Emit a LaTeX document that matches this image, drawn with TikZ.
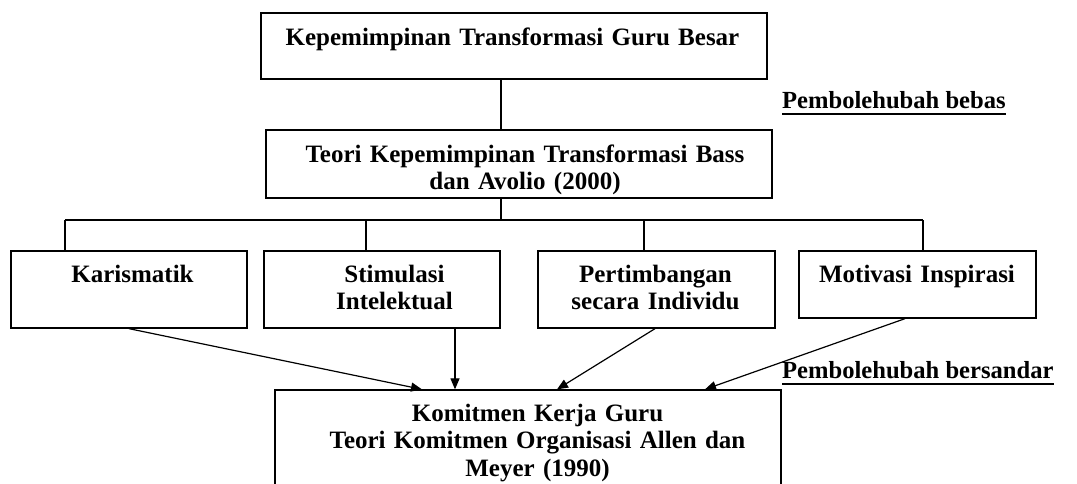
\documentclass[tikz,border=0pt]{standalone}
\usepackage{fontspec}
\setmainfont{Liberation Serif}
\usetikzlibrary{arrows.meta,calc}
\tikzset{
  box/.style={draw=black, line width=1.3pt, fill=white, rectangle, inner sep=0pt},
  txt/.style={font=\bfseries\fontsize{25}{27.5}\selectfont, align=center, text width=500pt, inner sep=0pt, anchor=base},
  lbl/.style={font=\bfseries\fontsize{24.6}{27}\selectfont, inner sep=0pt, anchor=base west},
  conn/.style={draw=black, line width=1.2pt},
  arr/.style={conn, -{Triangle[length=11pt,width=9pt]}},
  uline/.style={draw=black, line width=2pt}
}
\begin{document}
\begin{tikzpicture}[x=1pt,y=-1pt]
\clip (0,0) rectangle (1077,483);
\fill[white] (0,0) rectangle (1077,483);
% boxes
\node[box, minimum width=506pt, minimum height=66pt] (top) at (514,46) {};
\node[box, minimum width=506pt, minimum height=68pt] (mid) at (519,164) {};
\node[box, minimum width=236pt, minimum height=77pt] (k1) at (129,289.5) {};
\node[box, minimum width=236pt, minimum height=77pt] (k2) at (382,289.5) {};
\node[box, minimum width=237pt, minimum height=77pt] (k3) at (656.5,289.5) {};
\node[box, minimum width=237pt, minimum height=67pt] (k4) at (917.5,284.5) {};
\node[box, minimum width=506pt, minimum height=110pt] (kom) at (528,445) {};
% texts
\node[txt] (ttop) at (512.5,45) {Kepemimpinan Transformasi Guru Besar};
\node[txt] (tmid) at (525,162) {Teori Kepemimpinan Transformasi Bass\\dan Avolio (2000)};
\node[txt] (tk1) at (132.5,282) {Karismatik};
\node[txt] (tk2) at (394.5,282) {Stimulasi\\Intelektual};
\node[txt] (tk3) at (655.5,282) {Pertimbangan\\secara Individu};
\node[txt] (tk4) at (917,282) {Motivasi Inspirasi};
\node[txt] (tkom) at (537.5,421) {Komitmen Kerja Guru\\Teori Komitmen Organisasi Allen dan\\Meyer (1990)};
% labels
\node[lbl] (lab1) at (782,108) {Pembolehubah bebas};
\node[lbl] (lab2) at (782,378) {Pembolehubah bersandar};
\draw[uline] ([yshift=-5.5pt]lab1.base west) -- ([yshift=-5.5pt]lab1.base east);
\draw[uline] ([yshift=-5.5pt]lab2.base west) -- ([yshift=-5.5pt]lab2.base east);
% tree connectors
\coordinate (spine) at (501,220);
\coordinate (b1) at (65,220);
\coordinate (b2) at (366,220);
\coordinate (b3) at (644,220);
\coordinate (b4) at (923,220);
\draw[conn] (top.south -| spine) -- (mid.north -| spine);
\draw[conn] (mid.south -| spine) -- (spine);
\draw[conn] (b1) -- (b4);
\draw[conn] (b1) -- (k1.north -| b1);
\draw[conn] (b2) -- (k2.north -| b2);
\draw[conn] (b3) -- (k3.north -| b3);
\draw[conn] (b4) -- (k4.north -| b4);
% arrows
\draw[arr] (k1.south) -- ([xshift=-106pt]kom.north);
\draw[arr] ([xshift=73pt]k2.south) -- ([xshift=-73pt]kom.north);
\draw[arr] ([xshift=-1.5pt]k3.south) -- ([xshift=29pt]kom.north);
\draw[arr] ([xshift=-12.5pt]k4.south) -- ([xshift=177pt]kom.north);
\end{tikzpicture}
\end{document}
